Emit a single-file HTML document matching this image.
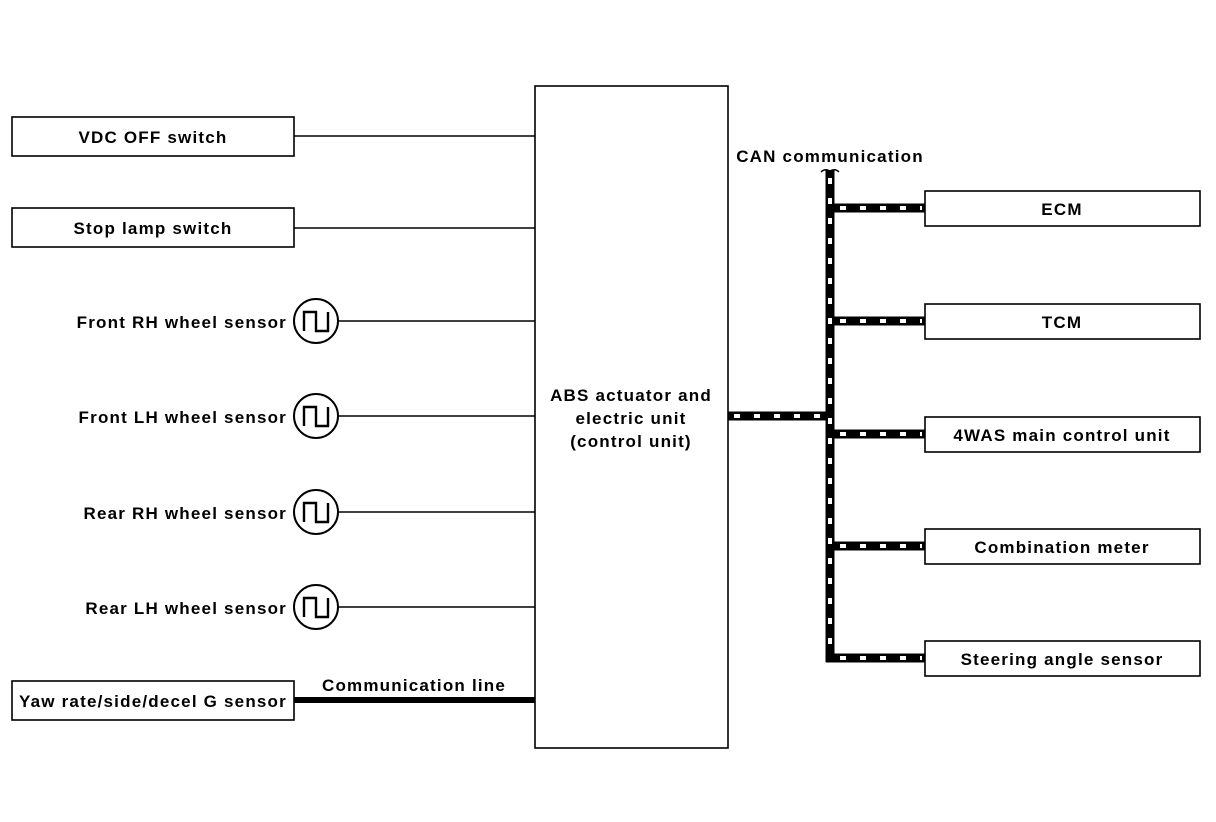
<!DOCTYPE html>
<html><head><meta charset="utf-8"><style>
html,body{margin:0;padding:0;background:#fff;}
svg{display:block;}
text{font-family:"Liberation Sans",Arial,sans-serif;font-size:17px;fill:#000;font-weight:bold;letter-spacing:1.2px;}
</style></head><body>
<svg width="1216" height="822" viewBox="0 0 1216 822" xmlns="http://www.w3.org/2000/svg">
<defs>
<g id="wave">
<circle cx="0" cy="0" r="22" fill="#fff" stroke="#000" stroke-width="2"/>
<polyline points="-12,10 -12,-9 0,-9 0,10 12,10 12,-9" fill="none" stroke="#000" stroke-width="2.4"/>
</g>
</defs>
<g fill="#fff" stroke="#000" stroke-width="1.6">
<rect x="12" y="117" width="282" height="39"/>
<rect x="12" y="208" width="282" height="39"/>
<rect x="12" y="681" width="282" height="39"/>
<rect x="535" y="86" width="193" height="662"/>
<rect x="925" y="191" width="275" height="35"/>
<rect x="925" y="304" width="275" height="35"/>
<rect x="925" y="417" width="275" height="35"/>
<rect x="925" y="529" width="275" height="35"/>
<rect x="925" y="641" width="275" height="35"/>
</g>
<g stroke="#000" stroke-width="1.6">
<line x1="294" y1="136" x2="535" y2="136"/>
<line x1="294" y1="228" x2="535" y2="228"/>
<line x1="338" y1="321" x2="535" y2="321"/>
<line x1="338" y1="416" x2="535" y2="416"/>
<line x1="338" y1="512" x2="535" y2="512"/>
<line x1="338" y1="607" x2="535" y2="607"/>
</g>
<line x1="294" y1="700" x2="535" y2="700" stroke="#000" stroke-width="6"/>
<use href="#wave" x="316" y="321"/>
<use href="#wave" x="316" y="416"/>
<use href="#wave" x="316" y="512"/>
<use href="#wave" x="316" y="607"/>
<g fill="none" stroke="#000" stroke-width="9">
<line x1="830" y1="170" x2="830" y2="662"/>
<line x1="728" y1="416" x2="830" y2="416"/>
<line x1="826" y1="208" x2="925" y2="208"/>
<line x1="826" y1="321" x2="925" y2="321"/>
<line x1="826" y1="434" x2="925" y2="434"/>
<line x1="826" y1="546" x2="925" y2="546"/>
<line x1="826" y1="658" x2="925" y2="658"/>
</g>
<g fill="none" stroke="#fff" stroke-width="4" stroke-dasharray="6 14">
<line x1="830" y1="178" x2="830" y2="656"/>
<line x1="734" y1="416" x2="824" y2="416"/>
<line x1="840" y1="208" x2="922" y2="208"/>
<line x1="840" y1="321" x2="922" y2="321"/>
<line x1="840" y1="434" x2="922" y2="434"/>
<line x1="840" y1="546" x2="922" y2="546"/>
<line x1="840" y1="658" x2="922" y2="658"/>
</g>
<path d="M821 172 q4 -4 9 -1 q5 -3 9 1" fill="none" stroke="#000" stroke-width="1.5"/>
<g text-anchor="middle">
<text x="153" y="143">VDC OFF switch</text>
<text x="153" y="234">Stop lamp switch</text>
<text x="153" y="707">Yaw rate/side/decel G sensor</text>
<text x="414" y="691">Communication line</text>
<text x="631" y="401">ABS actuator and</text>
<text x="631" y="424">electric unit</text>
<text x="631" y="447">(control unit)</text>
<text x="830" y="162">CAN communication</text>
<text x="1062" y="215">ECM</text>
<text x="1062" y="328">TCM</text>
<text x="1062" y="441">4WAS main control unit</text>
<text x="1062" y="553">Combination meter</text>
<text x="1062" y="665">Steering angle sensor</text>
</g>
<g text-anchor="end">
<text x="287" y="328">Front RH wheel sensor</text>
<text x="287" y="423">Front LH wheel sensor</text>
<text x="287" y="519">Rear RH wheel sensor</text>
<text x="287" y="614">Rear LH wheel sensor</text>
</g>
</svg>
</body></html>
